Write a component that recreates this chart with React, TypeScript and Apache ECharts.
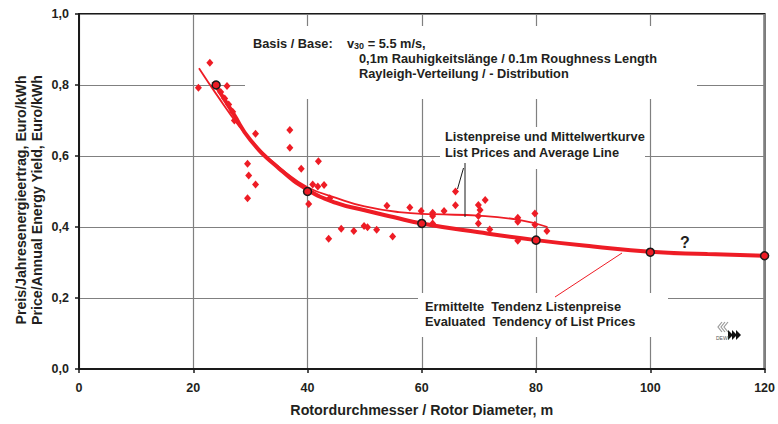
import { useEffect, useRef } from "react";
import * as echarts from "echarts";

// ---- data ----
const xTickValues = [0, 20, 40, 60, 80, 100, 120];
const yTickValues = [0, 0.2, 0.4, 0.6, 0.8, 1.0];

// list prices (red diamonds)
const listX = [20.9, 22.9, 25.9, 24.8, 25.5, 26.2, 26.9, 27.2, 29.5, 29.7, 30.9, 29.5, 30.9, 36.9, 36.9, 38.9, 41.9, 40.9, 41.8, 42.9, 40.2, 43.9, 43.7, 45.9, 48.1, 49.9, 50.5, 52.1, 53.9, 54.9, 57.9, 59.9, 61.9, 61.9, 61.9, 63.9, 65.9, 65.9, 69.9, 70.2, 69.9, 69.9, 71.1, 71.9, 76.8, 76.8, 76.8, 79.8, 79.8, 81.9];
const listY = [0.792, 0.863, 0.797, 0.78, 0.762, 0.745, 0.725, 0.70, 0.578, 0.545, 0.520, 0.481, 0.663, 0.673, 0.623, 0.564, 0.585, 0.520, 0.514, 0.518, 0.465, 0.481, 0.367, 0.395, 0.389, 0.403, 0.399, 0.392, 0.460, 0.373, 0.455, 0.445, 0.440, 0.431, 0.410, 0.445, 0.500, 0.461, 0.462, 0.448, 0.431, 0.410, 0.476, 0.393, 0.426, 0.415, 0.361, 0.438, 0.406, 0.389];

// average line of list prices (thin)
const avgX = [21, 24, 28, 32, 36, 40, 45, 50, 56, 62, 70, 77, 82];
const avgY = [0.847, 0.775, 0.685, 0.612, 0.556, 0.512, 0.482, 0.458, 0.442, 0.436, 0.432, 0.42, 0.40];

// evaluated tendency (thick)
const trendX = [23.5, 27, 30, 35, 40, 45, 50, 55, 60, 70, 80, 90, 100, 110, 120];
const trendY = [0.81, 0.72, 0.645, 0.565, 0.505, 0.468, 0.447, 0.428, 0.41, 0.385, 0.363, 0.345, 0.33, 0.324, 0.319];

// black-rimmed points on the tendency
const markX = [24, 40, 60, 80, 100, 120];
const markY = [0.80, 0.50, 0.41, 0.363, 0.329, 0.319];

const RED = "#ee1c25";
const INK = "#231f20";
const GRID = "#808080";
const FONT = "'Liberation Sans', Arial, Helvetica, sans-serif";
const NOTE = 12.8;

const pairs = (xs: number[], ys: number[]) => xs.map((x, i) => [x, ys[i]]);

export default function App() {
  const ref = useRef<HTMLDivElement>(null);

  useEffect(() => {
    if (!ref.current) return;
    const chart = echarts.init(ref.current, undefined, { renderer: "svg" });

    const txt = (x: number, y: number, text: string, extra: any = {}) => ({
      type: "text",
      x,
      y,
      z: 20,
      style: {
        text,
        fill: INK,
        fontFamily: FONT,
        fontWeight: "bold",
        fontSize: NOTE,
        verticalAlign: "middle",
        ...extra,
      },
    });
    const whiteRect = (x: number, y: number, w: number, h: number) => ({
      type: "rect",
      z: 1,
      shape: { x, y, width: w, height: h },
      style: { fill: "#ffffff" },
    });

    chart.setOption({
      animation: false,
      backgroundColor: "#ffffff",
      grid: {
        left: 79,
        right: 12,
        top: 14,
        bottom: 55,
        show: true,
        borderColor: "#1a1a1a",
        borderWidth: 2,
        backgroundColor: "transparent",
      },
      xAxis: {
        type: "value",
        min: 0,
        max: 120,
        interval: 20,
        name: "Rotordurchmesser / Rotor Diameter, m",
        nameLocation: "middle",
        nameGap: 34,
        nameTextStyle: { fontFamily: FONT, fontWeight: "bold", fontSize: 14.3, color: INK },
        axisLine: { show: true, lineStyle: { color: "#1a1a1a", width: 2 } },
        axisTick: { show: true, length: 4, lineStyle: { color: "#1a1a1a", width: 1.5 } },
        axisLabel: {
          fontFamily: FONT,
          fontWeight: "bold",
          fontSize: 12.5,
          color: INK,
          margin: 12,
          formatter: (v: number) => (xTickValues.includes(v) ? String(v) : ""),
        },
        splitLine: { show: true, lineStyle: { color: GRID, width: 1.2 } },
      },
      yAxis: {
        type: "value",
        min: 0,
        max: 1,
        interval: 0.2,
        axisLine: { show: true, lineStyle: { color: "#1a1a1a", width: 2 } },
        axisTick: { show: true, length: 4, lineStyle: { color: "#1a1a1a", width: 1.5 } },
        axisLabel: {
          fontFamily: FONT,
          fontWeight: "bold",
          fontSize: 12.5,
          color: INK,
          margin: 10,
          formatter: (v: number) => {
            const t = yTickValues.find((k) => Math.abs(k - v) < 1e-9);
            return t === undefined ? "" : t.toFixed(1).replace(".", ",");
          },
        },
        splitLine: { show: true, lineStyle: { color: GRID, width: 1.2 } },
      },
      series: [
        {
          type: "line",
          name: "Mittelwertkurve",
          data: pairs(avgX, avgY),
          smooth: 0.5,
          symbol: "none",
          lineStyle: { color: RED, width: 1.8 },
          z: 3,
        },
        {
          type: "line",
          name: "Tendenz",
          data: pairs(trendX, trendY),
          smooth: 0.5,
          symbol: "none",
          lineStyle: { color: RED, width: 4 },
          z: 4,
        },
        {
          type: "scatter",
          name: "Listenpreise",
          data: pairs(listX, listY),
          symbol: "diamond",
          symbolSize: [7, 8],
          itemStyle: { color: RED, opacity: 1 },
          z: 5,
        },
        {
          type: "scatter",
          name: "Stützpunkte",
          data: pairs(markX, markY),
          symbol: "circle",
          symbolSize: 8,
          itemStyle: { color: RED, borderColor: "#1a1a1a", borderWidth: 1.5, opacity: 1 },
          z: 6,
        },
      ],
      graphic: [
        // white label boxes hiding the grid
        whiteRect(245, 26, 452, 73),
        whiteRect(440, 127, 205, 42),
        whiteRect(418, 293, 250, 44),
        // Basis / Base box
        txt(253, 43, "Basis / Base:"),
        {
          type: "text",
          x: 347,
          y: 43,
          z: 20,
          style: {
            text: "{b|v}{s|30}{b| = 5.5 m/s,}",
            verticalAlign: "middle",
            rich: {
              b: { fontFamily: FONT, fontWeight: "bold", fontSize: NOTE, fill: INK, color: INK },
              s: { fontFamily: FONT, fontWeight: "bold", fontSize: 9, fill: INK, color: INK, padding: [6, 0, 0, 0] },
            },
          },
        },
        txt(359, 58, "0,1m Rauhigkeitslänge / 0.1m Roughness Length"),
        txt(359, 73, "Rayleigh-Verteilung / - Distribution"),
        // list price box
        txt(445, 136, "Listenpreise und Mittelwertkurve"),
        txt(445, 152, "List Prices and Average Line"),
        {
          type: "line",
          z: 20,
          shape: { x1: 465, y1: 163, x2: 465, y2: 217 },
          style: { stroke: "#1a1a1a", lineWidth: 1 },
        },
        {
          type: "line",
          z: 20,
          shape: { x1: 463.5, y1: 168, x2: 457.5, y2: 189 },
          style: { stroke: "#1a1a1a", lineWidth: 1 },
        },
        // tendency box
        txt(425, 306, "Ermittelte  Tendenz Listenpreise"),
        txt(425, 321, "Evaluated  Tendency of List Prices"),
        {
          type: "line",
          z: 20,
          shape: { x1: 555, y1: 297, x2: 622, y2: 253 },
          style: { stroke: RED, lineWidth: 1 },
        },
        txt(685, 242, "?", { fontSize: 16, align: "center" }),
        // y-axis title
        {
          type: "text",
          x: 29,
          y: 200,
          rotation: Math.PI / 2,
          z: 20,
          style: {
            text: "Preis/Jahresenergieertrag, Euro/kWh\nPrice/Annual Energy Yield, Euro/kWh",
            fill: INK,
            fontFamily: FONT,
            fontWeight: "bold",
            fontSize: 14.2,
            lineHeight: 16,
            align: "center",
            verticalAlign: "middle",
          },
        },
        // DEWI logo
        {
          type: "group",
          z: 20,
          children: [
            { type: "polyline", shape: { points: [[722, 322], [718, 327], [722, 332]] }, style: { stroke: "#9a9a9a", lineWidth: 1.2, fill: "none" } },
            { type: "polyline", shape: { points: [[725, 322], [721, 327], [725, 332]] }, style: { stroke: "#9a9a9a", lineWidth: 1.2, fill: "none" } },
            { type: "polyline", shape: { points: [[728, 322], [724, 327], [728, 332]] }, style: { stroke: "#9a9a9a", lineWidth: 1.2, fill: "none" } },
            { type: "polygon", shape: { points: [[728, 330], [733, 335], [728, 340]] }, style: { fill: "#111" } },
            { type: "polygon", shape: { points: [[732, 330], [737, 335], [732, 340]] }, style: { fill: "#111" } },
            { type: "polygon", shape: { points: [[736, 330], [741, 335], [736, 340]] }, style: { fill: "#111" } },
            { type: "text", x: 716, y: 337.5, style: { text: "DEWI", fontFamily: FONT, fontSize: 5, fill: "#555", verticalAlign: "middle" } },
          ],
        },
      ],
    });

    return () => chart.dispose();
  }, []);

  return (
    <div
      ref={ref}
      style={{ position: "fixed", left: 0, top: 0, width: 778, height: 424, background: "#fff" }}
    />
  );
}
